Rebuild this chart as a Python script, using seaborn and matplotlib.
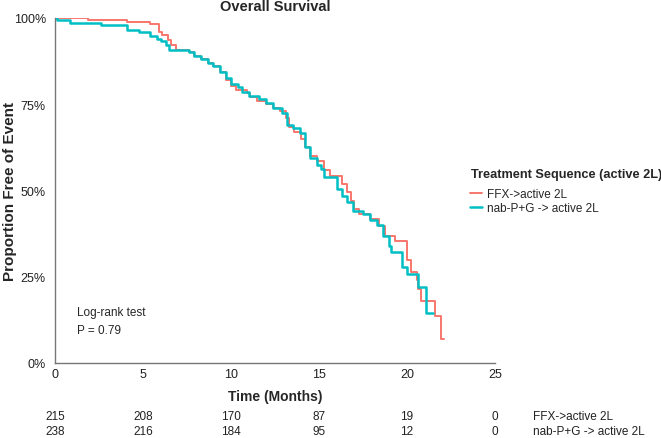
import pandas as pd
import seaborn as sns
import matplotlib.pyplot as plt
from matplotlib.lines import Line2D

# step curve breakpoints (months, % free of event)
ffx_time = [0, 1.9, 4.1, 5.4, 5.9, 6.1, 6.4, 6.6, 6.9, 7.6, 7.9, 8.3, 8.7, 9.0, 9.4, 9.7, 10.0,
            10.3, 10.9, 11.1, 11.5, 12.0, 12.4, 12.8, 13.1, 13.3, 13.6, 14.0, 14.2, 14.5, 14.9,
            15.3, 15.6, 16.3, 16.6, 16.8, 17.0, 17.3, 17.9, 18.4, 18.75, 19.3, 20.0, 20.2,
            20.55, 20.65, 20.8, 21.6, 21.9, 22.1]
ffx_surv = [100, 99.5, 98.9, 98.2, 96.0, 95.0, 93.5, 92.0, 90.7, 90.0, 89.0, 88.0, 87.0, 86.0,
            84.3, 82.0, 80.2, 79.2, 78.3, 77.0, 76.0, 75.0, 74.0, 73.0, 71.0, 68.5, 67.0, 65.0,
            62.5, 60.0, 58.5, 56.0, 54.3, 52.0, 49.5, 47.0, 44.6, 43.2, 41.7, 39.8, 36.9, 35.4,
            29.7, 26.3, 23.9, 21.4, 18.0, 13.5, 6.8, 6.8]

nab_time = [0, 0.1, 0.85, 2.6, 4.1, 4.8, 5.4, 5.8, 6.0, 6.3, 6.5, 7.6, 7.9, 8.3, 8.7, 9.0, 9.4,
            9.7, 10.0, 10.4, 10.6, 11.0, 11.6, 12.0, 12.4, 12.9, 13.2, 13.5, 13.9, 14.2, 14.5,
            14.9, 15.1, 15.3, 16.0, 16.3, 16.6, 16.95, 17.5, 17.9, 18.3, 18.65, 19.0, 19.1,
            19.7, 20.0, 20.6, 21.1, 21.5]
nab_surv = [100, 99.5, 98.4, 97.8, 96.6, 96.0, 94.8, 94.0, 93.2, 92.0, 90.7, 90.0, 89.0, 88.0,
            87.0, 86.0, 84.3, 82.5, 80.8, 80.0, 78.5, 77.5, 76.5, 75.3, 74.0, 72.5, 69.0, 68.0,
            66.5, 62.5, 59.5, 57.5, 56.2, 53.8, 50.4, 48.5, 46.6, 44.1, 43.2, 41.5, 40.0, 36.9,
            34.0, 32.1, 27.7, 25.8, 21.9, 14.5, 14.5]

groups = ['FFX->active 2L', 'nab-P+G -> active 2L']
colors = ['#F8766D', '#00BFC4']
risk_times = [0, 5, 10, 15, 20, 25]
ffx_risk = [215, 208, 170, 87, 19, 0]
nab_risk = [238, 216, 184, 95, 12, 0]

df = pd.concat([
    pd.DataFrame({'time': ffx_time, 'surv': ffx_surv, 'group': groups[0]}),
    pd.DataFrame({'time': nab_time, 'surv': nab_surv, 'group': groups[1]}),
])

sns.set_style('white')
plt.rcParams['font.family'] = ['Liberation Sans', 'DejaVu Sans']

fig = plt.figure(figsize=(6.61, 4.39), dpi=100)
ax = fig.add_axes([0.083, 0.171, 0.666, 0.786])

# one call per group so the teal curve can be a touch heavier, as in the reference
widths = [1.4, 1.8]
for g, c, w in zip(groups, colors, widths):
    sns.lineplot(data=df[df['group'] == g], x='time', y='surv', color=c, estimator=None,
                 sort=False, drawstyle='steps-post', linewidth=w, ax=ax)

ax.set_xlim(0, 25)
ax.set_ylim(0, 100)
ax.set_xticks(risk_times)
ax.set_yticks([0, 25, 50, 75, 100])
ax.set_yticklabels(['0%', '25%', '50%', '75%', '100%'])
ax.tick_params(axis='both', labelsize=9, length=3, color='#555555', labelcolor='#222222')
ax.tick_params(axis='x', pad=1)
for side in ['top', 'right']:
    ax.spines[side].set_visible(False)
for side in ['left', 'bottom']:
    ax.spines[side].set_color('#777777')
    ax.spines[side].set_linewidth(1)

ax.set_title('Overall Survival', fontsize=10.5, fontweight='bold', pad=6)
ax.set_xlabel('Time (Months)', fontsize=10, fontweight='bold', labelpad=6)
ax.set_ylabel('Proportion Free of Event', fontsize=11, fontweight='bold')
ax.yaxis.set_label_coords(-0.085, 0.5)

ax.text(1.25, 14.8, 'Log-rank test', fontsize=8.5, va='center')
ax.text(1.25, 9.5, 'P = 0.79', fontsize=8.5, va='center')

# legend title drawn on its own so the gap to the entries matches
fig.text(471 / 661, 1 - 175 / 439, 'Treatment Sequence (active 2L)', fontsize=9.2,
         fontweight='bold', ha='left', va='center')
handles = [Line2D([0], [0], color=c, lw=w) for c, w in zip(colors, widths)]
ax.legend(handles, groups, loc='center left', bbox_to_anchor=(0.943, 0.469),
          frameon=False, borderpad=0, borderaxespad=0, fontsize=8.5, handlelength=1.0,
          handletextpad=0.4, labelspacing=0.2)

# risk table
for row, (vals, y) in enumerate([(ffx_risk, 417), (nab_risk, 432)]):
    yf = 1 - y / 439
    for t, v in zip(risk_times, vals):
        xf = 0.083 + 0.666 * t / 25
        fig.text(xf, yf, str(v), fontsize=8.5, ha='center', va='center', color='#222222')
    fig.text(533 / 661, yf, groups[row], fontsize=8.5, ha='left', va='center',
             color='#222222')

fig.savefig('out.png', dpi=100)
